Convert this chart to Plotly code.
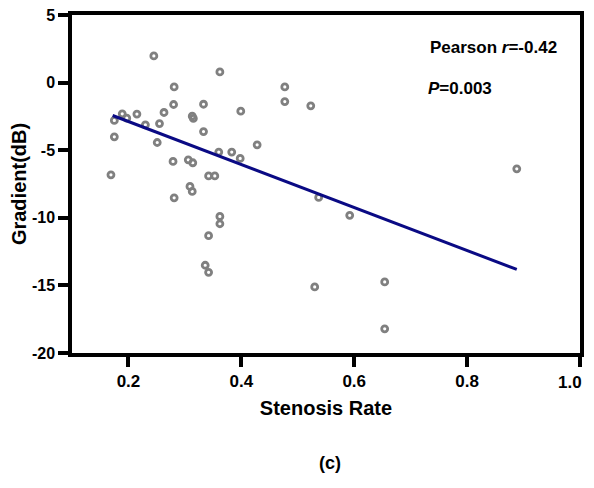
import plotly.graph_objects as go

# Data
stenosis_rate = [0.245, 0.362, 0.281, 0.477, 0.477, 0.523, 0.280, 0.333, 0.399, 0.263,
                 0.189, 0.215, 0.197, 0.175, 0.313, 0.315, 0.255, 0.230, 0.175, 0.333,
                 0.251, 0.428, 0.360, 0.383, 0.398, 0.279, 0.306, 0.314, 0.169, 0.342,
                 0.353, 0.309, 0.313, 0.281, 0.362, 0.362, 0.342, 0.336, 0.342, 0.530,
                 0.537, 0.592, 0.654, 0.654, 0.888]
gradient_db = [1.97, 0.79, -0.32, -0.32, -1.40, -1.72, -1.62, -1.60, -2.11, -2.21,
               -2.31, -2.33, -2.63, -2.80, -2.48, -2.65, -3.03, -3.12, -4.01, -3.62,
               -4.43, -4.60, -5.14, -5.14, -5.61, -5.83, -5.71, -5.93, -6.82, -6.90,
               -6.90, -7.68, -8.05, -8.52, -9.90, -10.44, -11.32, -13.51, -14.03, -15.11,
               -8.49, -9.82, -14.74, -18.21, -6.38]

fit_slope = -15.9
fit_intercept = 0.30
fit_x_range = [0.172, 0.888]
fit_y = [fit_intercept + fit_slope * v for v in fit_x_range]

x_tickvals = [0.2, 0.4, 0.6, 0.8, 1.0]
x_ticktext = ["0.2", "0.4", "0.6", "0.8", "1.0"]
y_tickvals = [-20, -15, -10, -5, 0, 5]
y_ticktext = ["-20", "-15", "-10", "-5", "0", "5"]

FONT = "Arial, Liberation Sans, sans-serif"

fig = go.Figure()
fig.add_trace(go.Scatter(
    x=stenosis_rate, y=gradient_db, mode="markers",
    marker=dict(symbol="circle-open", size=6, color="#808080", line=dict(width=2.8)),
    showlegend=False, hoverinfo="x+y"))
fig.add_trace(go.Scatter(
    x=fit_x_range, y=fit_y, mode="lines",
    line=dict(color="#0a0a84", width=3), showlegend=False))

axis_common = dict(
    showline=True, linecolor="black", linewidth=3.5, mirror=True,
    ticks="outside", ticklen=10, tickwidth=3.5, tickcolor="black",
    showgrid=False, zeroline=False, automargin=False, ticklabeloverflow="allow",
)

# the last x label is drawn as an annotation so it stays inside the visible page width
axis_labels = x_ticktext[:-1] + [""]

fig.update_xaxes(range=[0.1, 1.0], tickvals=x_tickvals, ticktext=axis_labels,
                 tickfont=dict(family=FONT, size=17, color="black", weight="bold"),
                 title=dict(text="Stenosis Rate", standoff=12,
                            font=dict(family=FONT, size=20, color="black", weight="bold")),
                 **axis_common)
fig.update_yaxes(range=[-20, 5], tickvals=y_tickvals, ticktext=y_ticktext,
                 tickfont=dict(family=FONT, size=16, color="black", weight="bold"),
                 title=dict(text="Gradient(dB)", standoff=4,
                            font=dict(family=FONT, size=20, color="black", weight="bold")),
                 **axis_common)

fig.add_annotation(x=x_tickvals[-1], y=0, xref="x", yref="paper", xanchor="right",
                   yanchor="middle", xshift=4, yshift=-29, text="<b>" + x_ticktext[-1] + "</b>",
                   showarrow=False, font=dict(family=FONT, size=17, color="black"))

fig.add_annotation(x=0.731, y=2.56, xref="x", yref="y", xanchor="left", yanchor="middle",
                   text="<b>Pearson <i>r</i>=-0.42</b>", showarrow=False,
                   font=dict(family=FONT, size=17, color="black"))
fig.add_annotation(x=0.728, y=-0.40, xref="x", yref="y", xanchor="left", yanchor="middle",
                   text="<b><i>P</i>=0.003</b>", showarrow=False,
                   font=dict(family=FONT, size=17, color="black"))
fig.add_annotation(x=0.508, y=-0.325, xref="paper", yref="paper", xanchor="center",
                   yanchor="middle", text="<b>(c)</b>", showarrow=False,
                   font=dict(family=FONT, size=18, color="black"))

# The page body has an 8px default margin, so the figure is sized/offset to compensate.
fig.update_layout(
    width=586, height=472,
    margin=dict(l=64, r=14, t=7, b=127),
    plot_bgcolor="white", paper_bgcolor="white",
)

fig.write_html("out.html")
